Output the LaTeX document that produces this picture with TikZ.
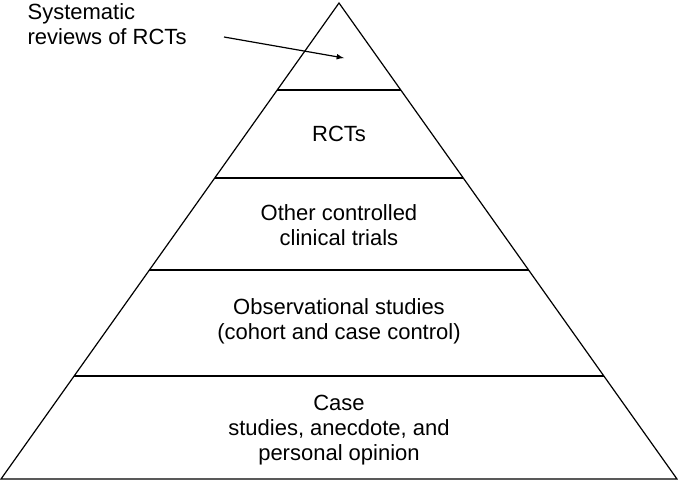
\documentclass[tikz,border=0pt]{standalone}
\usepackage{fontspec}
\setmainfont{Liberation Sans}
\usetikzlibrary{positioning}
\tikzset{
  tier/.style={align=center, font=\fontsize{16.5}{19}\selectfont},
}
\begin{document}
\begin{tikzpicture}[x=0.75pt, y=-0.75pt, line width=0.9pt]
  \useasboundingbox (0,0) rectangle (678,482);
  % pyramid outline and tiers
  \coordinate (top) at (339,3);
  \coordinate (bl) at (1,479);
  \coordinate (br) at (677,479);
  \draw (top) -- (bl) -- (br) -- cycle;
  \foreach \y in {90,178,270,376} {
    \pgfmathsetmacro{\hw}{(\y-3)/476*338}
    \draw (339-\hw,\y) -- (339+\hw,\y);
  }

  \node[tier] (rct) at (339,134) {RCTs};
  \node[tier] (occt) at (339,225) {Other controlled\\clinical trials};
  \node[tier] (obs) at (339,321) {Observational studies\\(cohort and case control)};
  \node[tier] (case) at (339,430) {Case\\studies, anecdote, and\\personal opinion};

  \node[tier, align=left, anchor=north west, inner sep=0pt] (sr) at (27,3) {Systematic\\reviews of RCTs};
  \coordinate (srtip) at (344,58);
  \draw[-latex] (224,37) -- (srtip);
\end{tikzpicture}
\end{document}
